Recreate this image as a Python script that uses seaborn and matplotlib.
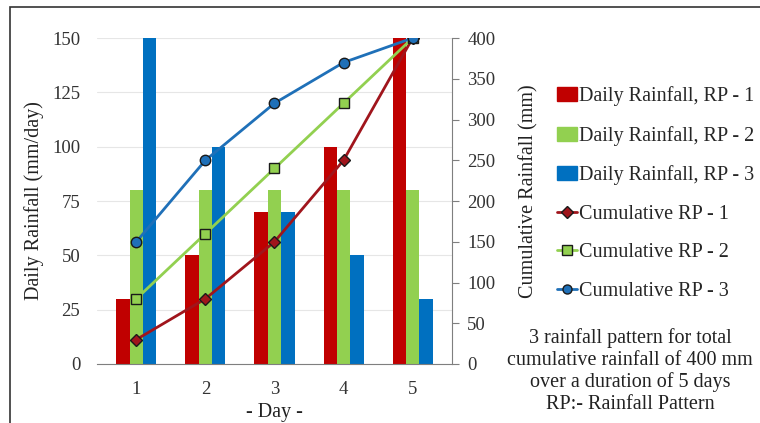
import numpy as np
import pandas as pd
import matplotlib.pyplot as plt
import seaborn as sns
from matplotlib.patches import Rectangle

days = [1, 2, 3, 4, 5]
daily_rp1 = [30, 50, 70, 100, 150]
daily_rp2 = [80, 80, 80, 80, 80]
daily_rp3 = [150, 100, 70, 50, 30]
cum_rp1 = [30, 80, 150, 250, 400]
cum_rp2 = [80, 160, 240, 320, 400]
cum_rp3 = [150, 250, 320, 370, 400]

bar_labels = ["Daily Rainfall, RP - 1", "Daily Rainfall, RP - 2", "Daily Rainfall, RP - 3"]
line_labels = ["Cumulative RP - 1", "Cumulative RP - 2", "Cumulative RP - 3"]
bar_colors = ["#C00000", "#92D050", "#0070C0"]
line_colors = ["#A0151C", "#92D050", "#1F70B8"]
line_markers = ["D", "s", "o"]

daily = pd.DataFrame({
    "Day": days * 3,
    "Rain": daily_rp1 + daily_rp2 + daily_rp3,
    "Pattern": [bar_labels[0]] * 5 + [bar_labels[1]] * 5 + [bar_labels[2]] * 5,
})

sns.set_style("white")
plt.rcParams["font.family"] = ["Liberation Serif", "DejaVu Serif"]
plt.rcParams["font.size"] = 13

fig = plt.figure(figsize=(7.6, 4.23), dpi=100)
ax = fig.add_axes([0.1276, 0.1395, 0.4671, 0.7705])

sns.barplot(ax=ax, data=daily, x="Day", y="Rain", hue="Pattern",
            palette=bar_colors, width=0.58, saturation=1, linewidth=0, gap=0, legend=False)
ax.set_ylim(0, 150)
ax.set_yticks(np.arange(0, 151, 25))
ax.set_xlim(-0.57, 4.57)
ax.yaxis.grid(True, color="#e6e6e6", linewidth=0.8)
ax.set_axisbelow(True)
for s in ["top", "right", "left"]:
    ax.spines[s].set_visible(False)
ax.spines["bottom"].set_color("#7f7f7f")
ax.tick_params(axis="both", length=0, labelsize=13.5, colors="#333333")
ax.tick_params(axis="x", pad=12)
ax.tick_params(axis="y", pad=12)
ax.set_ylabel("Daily Rainfall (mm/day)", fontsize=14.5, color="#222222", labelpad=6)
ax.set_xlabel("- Day -", fontsize=14.5, color="#222222", labelpad=4)

ax2 = ax.twinx()
cum = [cum_rp1, cum_rp2, cum_rp3]
xpos = np.arange(len(days))
for vals, lab, c, m in zip(cum, line_labels, line_colors, line_markers):
    sns.lineplot(ax=ax2, x=xpos, y=vals, color=c, marker=m, markersize=7.5 if m != "D" else 6.5,
                 markerfacecolor=c, markeredgecolor="#1a1a1a", markeredgewidth=1.0,
                 linewidth=2, label=lab, legend=False)
ax2.set_ylim(0, 400)
ax2.set_yticks(np.arange(0, 401, 50))
for s in ["top", "left", "bottom"]:
    ax2.spines[s].set_visible(False)
ax2.spines["right"].set_color("#7f7f7f")
ax2.tick_params(axis="y", length=5, direction="out", labelsize=13.5, colors="#333333", pad=6)
ax2.tick_params(axis="y", color="#7f7f7f")
ax2.set_ylabel("Cumulative Rainfall (mm)", fontsize=14.5, color="#222222")
ax2.yaxis.set_label_coords(1.19, 0.53)

handles = [Rectangle((0, 0), 1, 1, color=c) for c in bar_colors]
handles += [plt.Line2D([0], [0], color=c, marker=m, markersize=6.5, markerfacecolor=c,
                       markeredgecolor="#1a1a1a", linewidth=2)
            for c, m in zip(line_colors, line_markers)]
fig.legend(handles, bar_labels + line_labels, loc="upper left",
           bbox_to_anchor=(0.722, 0.815), frameon=False, fontsize=14.5,
           handlelength=1.0, handletextpad=0.1, labelspacing=0.97, borderaxespad=0)

fig.text(0.829, 0.225, "3 rainfall pattern for total\ncumulative rainfall of 400 mm\nover a duration of 5 days\nRP:- Rainfall Pattern",
         ha="center", va="top", fontsize=14.5, linespacing=1.2, color="#222222")

fig.patches.append(Rectangle((10 / 760, -0.1), 1.2, 1 - 7 / 423 + 0.1, transform=fig.transFigure,
                             fill=False, edgecolor="#333333", linewidth=1.2))

fig.savefig("out.png", dpi=100)
